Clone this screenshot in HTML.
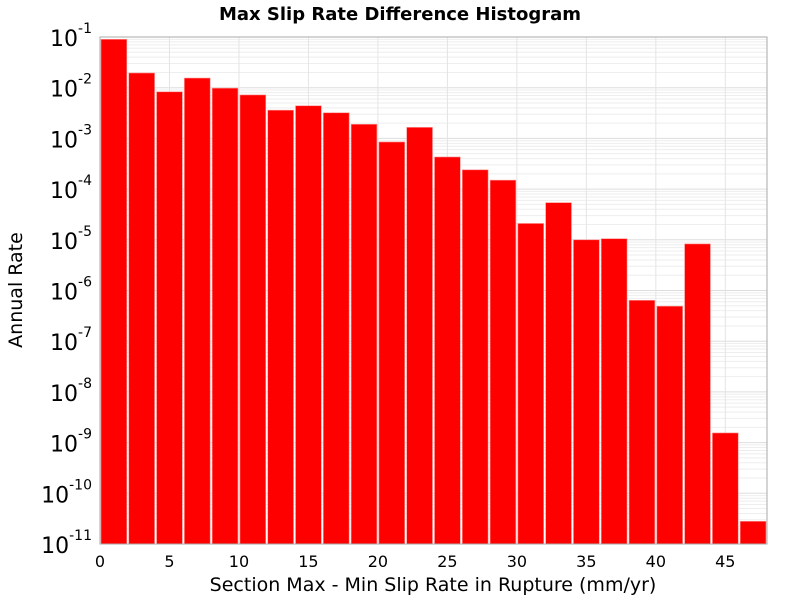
<!DOCTYPE html>
<html><head><meta charset="utf-8"><style>body{margin:0;background:#fff}svg{font-family:"DejaVu Sans","Liberation Sans",sans-serif}</style></head>
<body>
<svg id="chart" width="800" height="600" xmlns="http://www.w3.org/2000/svg">
<text x="400" y="20" text-anchor="middle" font-size="18" font-weight="bold">Max Slip Rate Difference Histogram</text>
<g id="grid"></g>
<g id="bars"></g>
<rect x="100" y="37" width="667" height="507" fill="none" stroke="#aaa"/>
<g id="xticks"></g>
<g id="yticks"></g>
<text x="433" y="591" text-anchor="middle" font-size="19">Section Max - Min Slip Rate in Rupture (mm/yr)</text>
<text transform="translate(22,290) rotate(-90)" text-anchor="middle" font-size="19">Annual Rate</text>
</svg>
<script>
const binStarts=[0,2,4,6,8,10,12,14,16,18,20,22,24,26,28,30,32,34,36,38,40,42,44,46];
const rates=[0.09,0.0195,0.0083,0.0155,0.0098,0.0072,0.0036,0.0044,0.0032,0.0019,0.00085,0.00165,0.00043,0.00024,0.00015,2.1e-5,5.4e-5,1e-5,1.05e-5,6.4e-7,4.9e-7,8.3e-6,1.55e-9,2.8e-11];
const xTicks=[0,5,10,15,20,25,30,35,40,45];
const yExps=[-11,-10,-9,-8,-7,-6,-5,-4,-3,-2,-1];
const binWidth=2;
const L=100,R=767,T=37,B=544,xMin=0,xMax=48,yMinE=-11,yMaxE=-1;
const NS="http://www.w3.org/2000/svg";
const xs=v=>L+(v-xMin)/(xMax-xMin)*(R-L);
const ys=v=>B-(Math.log10(v)-yMinE)/(yMaxE-yMinE)*(B-T);
function mk(tag,attrs,parent){const e=document.createElementNS(NS,tag);for(const k in attrs)e.setAttribute(k,attrs[k]);parent.appendChild(e);return e;}
const grid=document.getElementById('grid');
for(let e=yMinE;e<yMaxE;e++){for(let m=1;m<10;m++){const y=ys(m*Math.pow(10,e));
const ln=mk('line',{x1:L,x2:R,y1:y,y2:y,stroke:m==1?'#ddd':'#eee','stroke-width':1},grid);

}}
xTicks.forEach(t=>{const x=xs(t);const ln=mk('line',{x1:x,x2:x,y1:T,y2:B,stroke:'#e4e4e4'},grid);

});
const bars=document.getElementById('bars');
binStarts.forEach((s,i)=>{const x0=xs(s),x1=xs(s+binWidth),y=ys(rates[i]);
const r=mk('rect',{x:x0+1,y:y,width:x1-x0-2,height:B-y,fill:'#ff0000',stroke:'#ff9090','stroke-width':0.6},bars);

});
const xt=document.getElementById('xticks');
xTicks.forEach(t=>{const tx=mk('text',{x:xs(t),y:567,'text-anchor':'middle','font-size':16},xt);tx.textContent=t;

});
const yt=document.getElementById('yticks');
yExps.forEach(e=>{const y=ys(Math.pow(10,e));const tx=mk('text',{x:92,y:y+9,'text-anchor':'end','font-size':22},yt);
const a=mk('tspan',{},tx);a.textContent='10';
const b=mk('tspan',{dy:-13,'font-size':14},tx);b.textContent=e;

});
</script>
</body></html>
